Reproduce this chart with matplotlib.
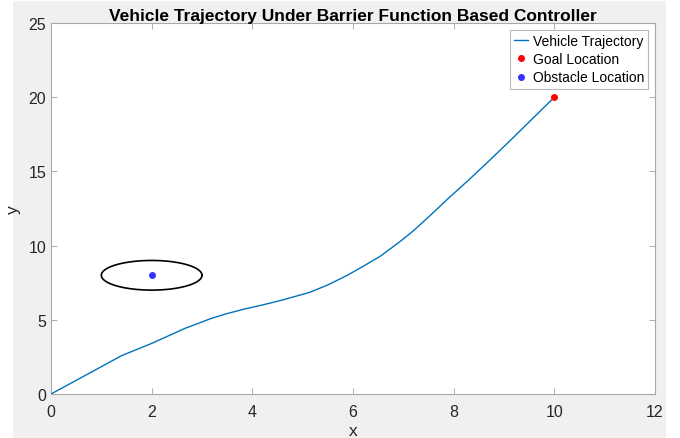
import numpy as np
import matplotlib
matplotlib.use("Agg")
import matplotlib.pyplot as plt
from matplotlib.patches import Rectangle

plt.rcParams['font.family'] = ['Liberation Sans', 'DejaVu Sans']

# Data
traj_x = [0, 0.5, 1.0, 1.4, 2.0, 2.66, 3.19, 3.5, 3.85, 4.2, 4.55, 5.14, 5.5, 5.87, 6.2, 6.54, 6.93, 7.2, 7.53, 7.9, 8.32, 8.7, 9.12, 9.55, 10.0]
traj_y = [0, 0.92, 1.84, 2.58, 3.41, 4.42, 5.10, 5.42, 5.73, 6.00, 6.29, 6.85, 7.35, 7.97, 8.60, 9.28, 10.26, 11.0, 12.02, 13.20, 14.49, 15.70, 17.07, 18.50, 20.0]
goal = (10, 20)
obstacle = (2, 8)
obstacle_radius = 1.0

title = "Vehicle Trajectory Under Barrier Function Based Controller"
legend_labels = ["Vehicle Trajectory", "Goal Location", "Obstacle Location"]
xticks = [0, 2, 4, 6, 8, 10, 12]
yticks = [0, 5, 10, 15, 20, 25]

fig = plt.figure(figsize=(6.8, 4.39), dpi=100, facecolor='white')
fig.patches.append(Rectangle((13/680, 0), (666-13)/680, (439-2)/439,
                             transform=fig.transFigure, facecolor='#f0f0f0',
                             edgecolor='none', zorder=-10))
ax = fig.add_axes([51/680, (439-395)/439, (655-51)/680, (395-24)/439])
ax.set_facecolor('white')

ax.plot(traj_x, traj_y, color='#0072BD', lw=1.0, label=legend_labels[0], zorder=3)
ax.plot([goal[0]], [goal[1]], 'o', color='#ff0000', ms=4, label=legend_labels[1], zorder=4)
ax.plot([obstacle[0]], [obstacle[1]], 'o', color='#3333ff', ms=4, label=legend_labels[2], zorder=4)
t = np.linspace(0, 2*np.pi, 200)
ax.plot(obstacle[0] + obstacle_radius*np.cos(t), obstacle[1] + obstacle_radius*np.sin(t),
        color='black', lw=1.2, zorder=3)

ax.set_xlim(0, 12)
ax.set_ylim(0, 25)
ax.set_xticks(xticks)
ax.set_yticks(yticks)
ax.tick_params(direction='in', length=4, width=0.6, color='#a0a0a0',
               top=True, right=True, labelsize=11.5, labelcolor='#262626')
ax.tick_params(axis='x', pad=7)
ax.tick_params(axis='y', pad=3.5)
for s in ax.spines.values():
    s.set_color('#a8a8a8')
    s.set_linewidth(0.8)

ax.set_title(title, fontsize=12.5, fontweight='bold', color='black', pad=2)
ax.set_xlabel('x', fontsize=12.5, color='#262626', labelpad=3)
ax.set_ylabel('y', fontsize=12.5, color='#262626')
ax.yaxis.set_label_coords(-0.049, 0.50)

leg = ax.legend(loc='upper right', fontsize=10, frameon=True, fancybox=False,
                borderaxespad=0.5, handlelength=1.0, handletextpad=0.3,
                borderpad=0.3, labelspacing=0.3, edgecolor='#a8a8a8')
leg.get_frame().set_linewidth(0.8)

fig.savefig('out.png', dpi=100, facecolor=fig.get_facecolor())
